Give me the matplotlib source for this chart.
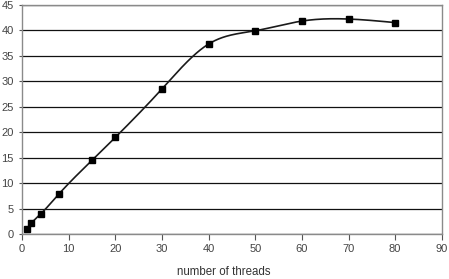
import numpy as np
import matplotlib
matplotlib.use("Agg")
import matplotlib.pyplot as plt

plt.rcParams["font.family"] = ["Liberation Sans", "DejaVu Sans"]

# threads vs speedup
threads = [1, 2, 4, 8, 15, 20, 30, 40, 50, 60, 70, 80]
speedup = [1.1, 2.2, 4.0, 8.0, 14.5, 19.0, 28.5, 37.3, 39.9, 41.8, 42.2, 41.5]
x_ticks = [0, 10, 20, 30, 40, 50, 60, 70, 80, 90]
y_ticks = [0, 5, 10, 15, 20, 25, 30, 35, 40, 45]


def cubic_spline(x, y, n=400):
    """Natural cubic spline through the points, for a smoothed line."""
    x = np.asarray(x, float)
    y = np.asarray(y, float)
    k = len(x)
    h = np.diff(x)
    A = np.zeros((k, k))
    b = np.zeros(k)
    A[0, 0] = A[-1, -1] = 1
    for i in range(1, k - 1):
        A[i, i - 1] = h[i - 1]
        A[i, i] = 2 * (h[i - 1] + h[i])
        A[i, i + 1] = h[i]
        b[i] = 3 * ((y[i + 1] - y[i]) / h[i] - (y[i] - y[i - 1]) / h[i - 1])
    c = np.linalg.solve(A, b)
    xs = np.linspace(x[0], x[-1], n)
    idx = np.clip(np.searchsorted(x, xs) - 1, 0, k - 2)
    dx = xs - x[idx]
    hi = h[idx]
    bi = (y[idx + 1] - y[idx]) / hi - hi * (2 * c[idx] + c[idx + 1]) / 3
    di = (c[idx + 1] - c[idx]) / (3 * hi)
    ys = y[idx] + bi * dx + c[idx] * dx ** 2 + di * dx ** 3
    return xs, ys


fig = plt.figure(figsize=(4.49, 2.79), dpi=100)
ax = fig.add_axes([0.049, 0.160, 0.935, 0.823])

xs, ys = cubic_spline(threads, speedup)
ax.plot(xs, ys, color="#1a1a1a", lw=1.2, zorder=3)
ax.plot(threads, speedup, ls="none", marker="s", ms=4.5, color="black", zorder=4)

ax.set_xlim(0, 90)
ax.set_ylim(0, 45)
ax.set_xticks(x_ticks)
ax.set_yticks(y_ticks)
ax.yaxis.grid(True, color="#111111", lw=0.9)
ax.set_axisbelow(True)

for s in ax.spines.values():
    s.set_color("#8a8a8a")
    s.set_linewidth(1.0)

ax.tick_params(axis="x", length=4, width=0.8, color="#555555", pad=3,
               labelsize=8, labelcolor="#444444")
ax.tick_params(axis="y", length=2, width=0.8, color="#555555", pad=4,
               labelsize=8, labelcolor="#444444")

fig.text(224 / 449, 1 - 272 / 279, "number of threads", ha="center", va="center",
         fontsize=8.3, color="#333333")

fig.savefig("out.png", dpi=100)
